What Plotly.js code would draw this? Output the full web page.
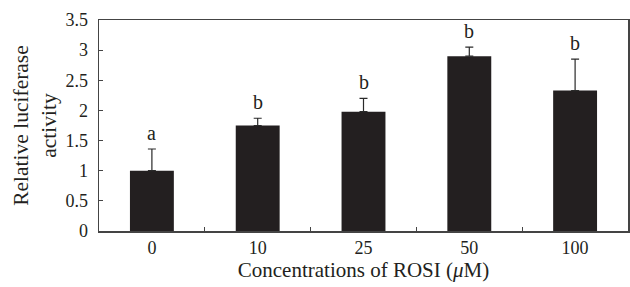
<!DOCTYPE html>
<html><head><meta charset="utf-8">
<script src="https://cdn.plot.ly/plotly-3.0.1.min.js"></script>
<style>html,body{margin:0;padding:0;background:#fff}#chart{width:630px;height:287px}</style>
</head><body><div id="chart"></div>
<script>
const categories = ["0", "10", "25", "50", "100"];
const values = [1.00, 1.75, 1.98, 2.90, 2.33];
const errors = [0.36, 0.12, 0.22, 0.15, 0.52];
const letters = ["a", "b", "b", "b", "b"];
const yTicks = [0, 0.5, 1, 1.5, 2, 2.5, 3, 3.5];
const yTickText = ["0", "0.5", "1", "1.5", "2", "2.5", "3", "3.5"];

const font = "Liberation Serif, Times New Roman, serif";
const ink = "#231f20";

const trace = {
  type: "bar",
  x: categories,
  y: values,
  width: 0.415,
  marker: {color: ink, line: {width: 0}},
  error_y: {type: "data", array: errors, arrayminus: errors.map(() => 0), symmetric: false,
            color: "#2a2a2a", thickness: 1.2, width: 4}
};

const annotations = categories.map((c, i) => ({
  x: i, y: values[i] + errors[i], text: letters[i], showarrow: false,
  yanchor: "bottom", yshift: 3, font: {family: font, size: 20, color: ink}
}));

const layout = {
  width: 630, height: 287,
  margin: {l: 99, r: 2, t: 20, b: 56},
  paper_bgcolor: "#fff", plot_bgcolor: "#fff",
  showlegend: false,
  font: {family: font, color: ink},
  xaxis: {
    type: "category", range: [-0.5, 4.5], tickson: "boundaries", ticks: "inside", ticklen: 4, tickcolor: "#444",
    showline: true, linecolor: "#444", linewidth: 1.5, mirror: true, showgrid: false,
    tickfont: {family: font, size: 18, color: ink}, tickangle: 0,
    title: {text: "Concentrations of ROSI (<i>μ</i>M)", font: {family: font, size: 21, color: ink}, standoff: 0}
  },
  yaxis: {
    range: [0, 3.5], tickvals: yTicks, ticktext: yTickText, ticks: "inside", ticklen: 4, tickcolor: "#444",
    showline: true, linecolor: "#444", linewidth: 1.5, mirror: true, showgrid: false, zeroline: false,
    tickfont: {family: font, size: 18, color: ink}, ticklabelstandoff: 6,
    title: {text: "Relative luciferase<br>activity", font: {family: font, size: 21.5, color: ink}, standoff: 3}
  },
  annotations: annotations
};

Plotly.newPlot("chart", [trace], layout, {displayModeBar: false, staticPlot: true});
</script></body></html>
